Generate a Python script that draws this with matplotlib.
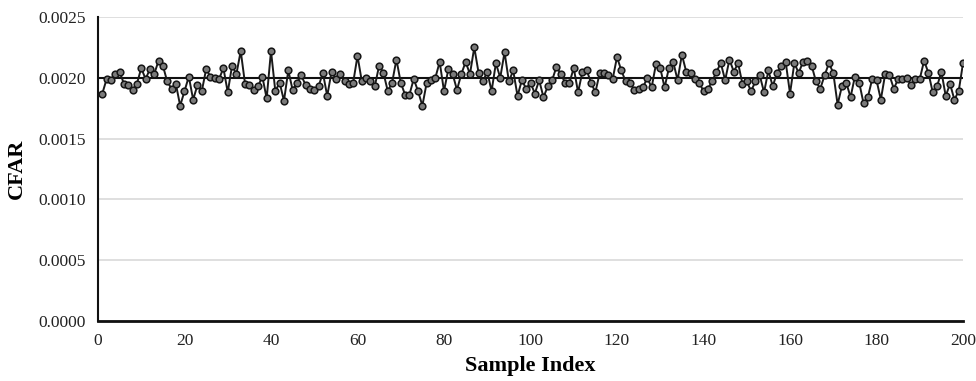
import matplotlib
matplotlib.use("Agg")
import matplotlib.pyplot as plt

# CFAR per sample
sample_index = list(range(1, 201))
cfar = [
    0.00187, 0.00199, 0.00198, 0.00203, 0.00205, 0.00195, 0.00194, 0.00190, 0.00195, 0.00208,
    0.00199, 0.00207, 0.00203, 0.00214, 0.00210, 0.00197, 0.00191, 0.00195, 0.00177, 0.00189,
    0.00201, 0.00182, 0.00194, 0.00189, 0.00207, 0.00201, 0.00200, 0.00199, 0.00208, 0.00188,
    0.00210, 0.00203, 0.00222, 0.00195, 0.00194, 0.00190, 0.00193, 0.00201, 0.00183, 0.00222,
    0.00189, 0.00196, 0.00181, 0.00206, 0.00190, 0.00196, 0.00202, 0.00194, 0.00191, 0.00190,
    0.00193, 0.00204, 0.00185, 0.00205, 0.00199, 0.00203, 0.00197, 0.00195, 0.00196, 0.00218,
    0.00197, 0.00200, 0.00197, 0.00193, 0.00210, 0.00204, 0.00189, 0.00196, 0.00215, 0.00196,
    0.00186, 0.00186, 0.00199, 0.00189, 0.00177, 0.00196, 0.00198, 0.00200, 0.00213, 0.00189,
    0.00207, 0.00203, 0.00190, 0.00203, 0.00213, 0.00203, 0.00225, 0.00204, 0.00197, 0.00205,
    0.00189, 0.00212, 0.00200, 0.00221, 0.00197, 0.00206, 0.00185, 0.00198, 0.00191, 0.00196,
    0.00187, 0.00198, 0.00184, 0.00193, 0.00198, 0.00209, 0.00203, 0.00196, 0.00196, 0.00208,
    0.00188, 0.00205, 0.00206, 0.00196, 0.00188, 0.00204, 0.00204, 0.00202, 0.00199, 0.00217,
    0.00206, 0.00197, 0.00196, 0.00190, 0.00191, 0.00192, 0.00200, 0.00192, 0.00211, 0.00208,
    0.00192, 0.00208, 0.00213, 0.00198, 0.00219, 0.00205, 0.00204, 0.00199, 0.00196, 0.00189,
    0.00191, 0.00197, 0.00205, 0.00212, 0.00198, 0.00215, 0.00205, 0.00212, 0.00195, 0.00197,
    0.00189, 0.00197, 0.00202, 0.00188, 0.00206, 0.00193, 0.00204, 0.00210, 0.00213, 0.00187,
    0.00212, 0.00204, 0.00213, 0.00214, 0.00210, 0.00197, 0.00191, 0.00202, 0.00212, 0.00204,
    0.00178, 0.00193, 0.00196, 0.00184, 0.00201, 0.00196, 0.00179, 0.00184, 0.00199, 0.00198,
    0.00182, 0.00203, 0.00202, 0.00191, 0.00199, 0.00199, 0.00200, 0.00194, 0.00199, 0.00199,
    0.00214, 0.00204, 0.00188, 0.00193, 0.00205, 0.00185, 0.00195, 0.00182, 0.00189, 0.00212,
]
threshold_x = [0, 200]
threshold_y = [0.0020, 0.0020]
y_ticks = [0.0000, 0.0005, 0.0010, 0.0015, 0.0020, 0.0025]
x_ticks = [0, 20, 40, 60, 80, 100, 120, 140, 160, 180, 200]

plt.rcParams['font.family'] = ['Liberation Serif', 'DejaVu Serif']

fig = plt.figure(figsize=(9.76, 3.81), dpi=100)
ax = fig.add_axes([0.1004, 0.1575, 0.8863, 0.798])

# threshold line
ax.plot(threshold_x, threshold_y, color='#111111', linewidth=1.5, zorder=3)
ax.plot(sample_index, cfar, color='#1a1a1a', linewidth=1.4,
        marker='o', markersize=4.8, markerfacecolor='#7a7a7a',
        markeredgecolor='#151515', markeredgewidth=1.1, zorder=4)

ax.set_xlim(0, 200)
ax.set_ylim(0, 0.0025)
ax.set_xticks(x_ticks)
ax.set_yticks(y_ticks)
ax.set_yticklabels(['{:.4f}'.format(v) for v in y_ticks])
ax.tick_params(axis='both', length=0, labelsize=12.5, colors='#222222')
ax.tick_params(axis='y', pad=9)
ax.tick_params(axis='x', pad=9)

ax.grid(axis='y', color='#d9d9d9', linewidth=1.2)
ax.set_axisbelow(True)
for s in ['top', 'right']:
    ax.spines[s].set_visible(False)
ax.spines['left'].set_linewidth(1.5)
ax.spines['bottom'].set_linewidth(2.0)
ax.spines['left'].set_color('#111111')
ax.spines['bottom'].set_color('#111111')

ax.set_xlabel('Sample Index', fontsize=16, fontweight='bold', labelpad=5)
ax.set_ylabel('CFAR', fontsize=16, fontweight='bold', labelpad=8)

fig.savefig('out.png', dpi=100)
